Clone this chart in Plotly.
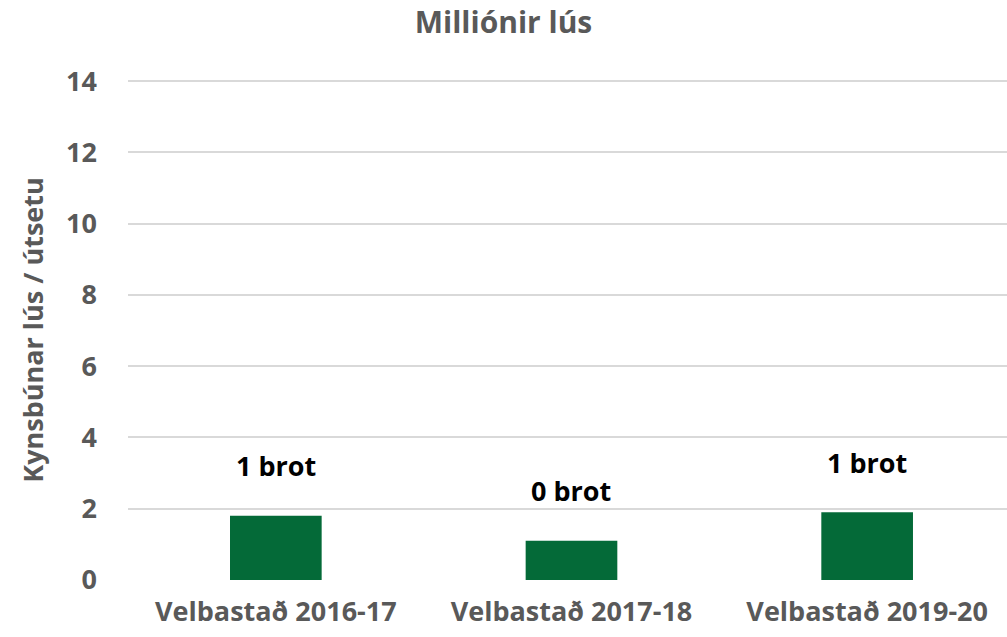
import plotly.graph_objects as go

categories = ["Velbastað 2016-17", "Velbastað 2017-18", "Velbastað 2019-20"]
values = [1.8, 1.1, 1.9]
labels = ["1 brot", "0 brot", "1 brot"]
y_ticks = [0, 2, 4, 6, 8, 10, 12, 14]

FONT = "Open Sans"
GREY = "#595959"
SIZE = 27

fig = go.Figure()
fig.add_trace(go.Bar(
    x=categories, y=values,
    marker=dict(color="#046a38", line=dict(width=0)),
    width=0.31,
    hoverinfo="x+y",
))

for c, v, t in zip(categories, values, labels):
    fig.add_annotation(x=c, y=v, text="<b>" + t + "</b>", showarrow=False, yanchor="middle",
                       yshift=50, font=dict(family=FONT, size=SIZE, color="#000000"))

fig.update_layout(
    width=1007, height=637,
    margin=dict(l=128, r=0, t=80, b=57),
    paper_bgcolor="white", plot_bgcolor="white",
    showlegend=False,
    title=dict(text="<b>Milliónir lús</b>", x=0.5, xanchor="center", y=1 - 22 / 637, yanchor="middle",
               font=dict(family=FONT, size=30, color=GREY)),
    font=dict(family=FONT, color=GREY),
)
fig.update_xaxes(
    type="category", range=[-0.5, 2.473],
    showgrid=False, showline=False, ticks="",
    tickfont=dict(family=FONT, size=SIZE, color=GREY, weight="bold"),
    ticklabelstandoff=13,
)
fig.update_yaxes(
    range=[0, 14.03], tickvals=y_ticks, showgrid=True, gridcolor="#d9d9d9", gridwidth=1.5,
    zeroline=False, showline=False, ticks="",
    tickfont=dict(family=FONT, size=SIZE, color=GREY, weight="bold"),
    ticklabelstandoff=30,
    title=dict(text="<b>Kynsbúnar lús / útsetu</b>", font=dict(family=FONT, size=SIZE, color=GREY), standoff=14),
)

fig.write_html("out.html", config={"displayModeBar": False},
               post_script="document.body.style.margin='0px';")
